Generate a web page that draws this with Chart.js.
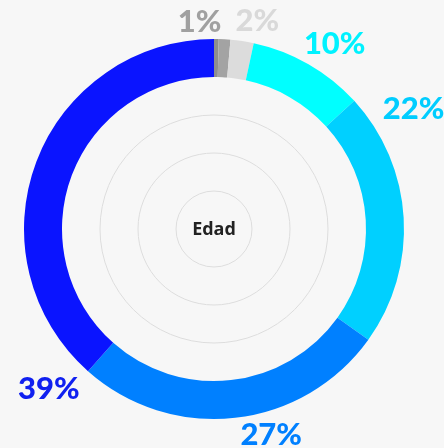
<!DOCTYPE html>
<html>
<head>
<meta charset="utf-8">
<script src="https://cdn.jsdelivr.net/npm/chart.js@4/dist/chart.umd.min.js"></script>
<style>
  html, body { margin: 0; padding: 0; background: #f7f7f7; }
  #wrap { width: 444px; height: 448px; }
</style>
</head>
<body>
<div id="wrap"><canvas id="edad"></canvas></div>
<script>
// age groups, share of respondents (%)
const groups = ['Sin dato', 'G1', 'G2', 'G3', 'G4', 'G5', 'G6'];
const shares = [0.4, 1, 2, 10, 22, 27, 39];
const sliceColors = ['#8e8e8e', '#a3a3a3', '#dcdcdc', '#00ffff', '#00d0ff', '#0080ff', '#0a14ff'];
const labelColors = ['#8e8e8e', '#a0a0a0', '#d9d9d9', '#00f2ff', '#00cdff', '#0080ff', '#1020f0'];

// where each percentage sits around the ring (degrees from top, px from centre)
const labelAngle = [null, -4, 11.8, 33.1, 58.9, 164.5, 225.9];
const labelRadius = [null, 208, 212, 221, 233, 214, 230];

const ringDecor = {
  id: 'ringDecor',
  beforeDatasetsDraw(chart) {
    const arc = chart.getDatasetMeta(0).data[0];
    if (!arc) return;
    const ctx = chart.ctx;
    ctx.save();
    ctx.strokeStyle = '#dddddd';
    ctx.lineWidth = 1;
    [0.25, 0.5, 0.75].forEach(f => {
      ctx.beginPath();
      ctx.arc(arc.x, arc.y, arc.innerRadius * f, 0, Math.PI * 2);
      ctx.stroke();
    });
    ctx.fillStyle = '#222222';
    ctx.font = 'bold 18px "Open Sans"';
    ctx.textAlign = 'center';
    ctx.textBaseline = 'middle';
    ctx.fillText('Edad', arc.x, arc.y + 1);
    ctx.restore();
  },
  afterDatasetsDraw(chart) {
    const arc = chart.getDatasetMeta(0).data[0];
    if (!arc) return;
    const ctx = chart.ctx;
    ctx.save();
    ctx.font = '900 31px Lato';
    ctx.textAlign = 'center';
    ctx.textBaseline = 'middle';
    shares.forEach((v, i) => {
      if (labelAngle[i] === null) return;
      const a = labelAngle[i] * Math.PI / 180;
      ctx.fillStyle = labelColors[i];
      ctx.fillText(v + '%', arc.x + Math.sin(a) * labelRadius[i], arc.y - Math.cos(a) * labelRadius[i]);
    });
    ctx.restore();
  }
};

new Chart(document.getElementById('edad'), {
  type: 'doughnut',
  data: {
    labels: groups,
    datasets: [{
      data: shares,
      backgroundColor: sliceColors,
      borderWidth: 0
    }]
  },
  options: {
    responsive: true,
    maintainAspectRatio: false,
    animation: false,
    cutout: '80%',
    layout: { padding: { left: 24, right: 40, top: 39, bottom: 29 } },
    plugins: {
      legend: { display: false },
      tooltip: { enabled: false }
    }
  },
  plugins: [ringDecor]
});
</script>
</body>
</html>
